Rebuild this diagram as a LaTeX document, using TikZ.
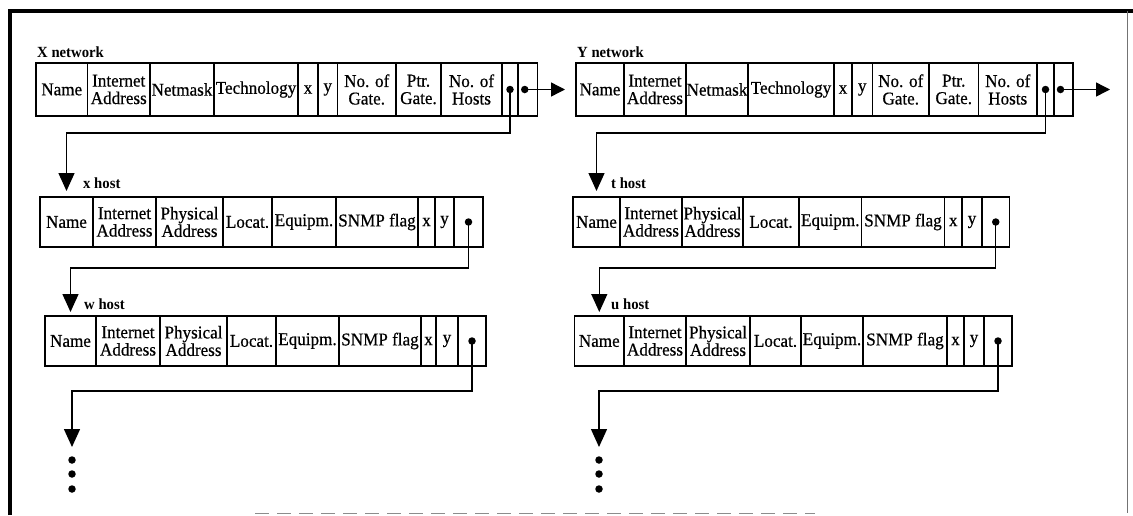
\documentclass[tikz,border=0pt]{standalone}
\usepackage{fontspec}
\setmainfont[FakeBold=0.6, FakeStretch=0.95]{Liberation Serif}
\newfontfamily\lblfont[FakeStretch=0.95]{Liberation Serif}
\usetikzlibrary{arrows.meta,calc}

\tikzset{
  cell/.style={draw, line width=1.4pt, inner sep=0pt, outer sep=0pt, align=center,
    font=\fontsize{18}{17.5}\selectfont},
  ptdot/.style={circle, fill, inner sep=0pt, outer sep=0pt, minimum size=7.5pt},
  moredot/.style={circle, fill, inner sep=0pt, minimum size=7.5pt},
  lbl/.style={anchor=base west, inner sep=0pt, font=\lblfont\bfseries\fontsize{15.5}{15.5}\selectfont},
  link/.style={line width=1.4pt, -{Triangle[length=18pt,width=16pt]}},
  hlink/.style={line width=1.4pt, -{Triangle[length=14pt,width=14pt]}},
}

\newcommand{\cellrow}[4]{%
  \foreach \l/\r/\t [count=\i] in {#4} {
    \node[cell, minimum width={(\r-\l)*1pt}, minimum height={(#3-#2)*1pt}]
      (#1\i) at ({(\l+\r)/2},{(#2+#3)/2}) {\t};
  }}

\begin{document}
\begin{tikzpicture}[x=1pt,y=-1pt]
\useasboundingbox (0,0) rectangle (1133,515);

% frame
\draw[line width=3.5pt] (10,515) -- (10,11) -- (1133,11);
\draw[line width=0.8pt, black!55] (1127,11) -- (1127,513);
\draw[line width=0.8pt, black!45, dash pattern=on 14pt off 8pt] (255,513) -- (815,513);

% rails (levels of the horizontal runs)
\coordinate (railA) at (0,133);
\coordinate (railB) at (0,268);
\coordinate (railC) at (0,391);

% ---------- X network ----------
\node[lbl] (Xlab) at (37,57) {X network};
\cellrow{X}{63}{116}{36/87.5/Name, 87.5/150/Internet\\Address, 150/214/Netmask,
  214/298/Technology, 298/318/x, 318/337.5/y, 337.5/396/No. of\\Gate.,
  396/441/Ptr.\\Gate., 441/502/No. of\\Hosts, 502/518/{}, 518/537.5/{}}
\node[ptdot] (Xp1) at (X10.center) {};
\node[ptdot] (Xp2) at ($(X11.center)+(-3,0)$) {};

% ---------- Y network ----------
\node[lbl] (Ylab) at (577,57) {Y network};
\cellrow{Y}{63}{116}{576/624/Name, 624/686/Internet\\Address, 686/748/Netmask,
  748/834/Technology, 834/852/x, 852/872.5/y, 872.5/929/No. of\\Gate.,
  929/978.5/Ptr.\\Gate., 978.5/1037/No. of\\Hosts, 1037/1054/{}, 1054/1073/{}}
\node[ptdot] (Yp1) at (Y10.center) {};
\node[ptdot] (Yp2) at ($(Y11.center)+(-3,0)$) {};
\coordinate (Yout) at (1110,89.5);

% ---------- x host ----------
\node[lbl] (xlab) at (83,188) {x host};
\cellrow{xh}{197}{247}{40/93/Name, 93/156/Internet\\Address, 156/223/Physical\\Address,
  223/272/Locat., 272/336/Equipm., 336/418/SNMP flag, 418/435/x, 435/454/y, 454/483/{}}
\node[ptdot] (xp) at (xh9.center) {};

% ---------- w host ----------
\node[lbl] (wlab) at (84,309) {w host};
\cellrow{wh}{316}{366}{45/96/Name, 96/160/Internet\\Address, 160/227/Physical\\Address,
  227/276/Locat., 276/339/Equipm., 339/421/SNMP flag, 421/436/x, 436/458/y, 458/486/{}}
\node[ptdot] (wp) at (wh9.center) {};
\coordinate (wend) at (72,447);
\node[moredot] (wm1) at (72,460) {};
\node[moredot] (wm2) at (72,474) {};
\node[moredot] (wm3) at (72,489) {};

% ---------- t host ----------
\node[lbl] (tlab) at (611,188) {t host};
\cellrow{th}{197}{247}{573/620/Name, 620/682/Internet\\Address, 682/743/Physical\\Address,
  743/799/Locat., 799/861.5/Equipm., 861.5/944.5/SNMP flag, 944.5/962/x, 962/982/y, 982/1009.5/{}}
\node[ptdot] (tp) at (th9.center) {};

% ---------- u host ----------
\node[lbl] (ulab) at (611,309) {u host};
\cellrow{uh}{316}{366}{574.6/624/Name, 624/686/Internet\\Address, 686/750/Physical\\Address,
  750/801/Locat., 801/863/Equipm., 863/947/SNMP flag, 947/964/x, 964/984/y, 984/1012/{}}
\node[ptdot] (up) at (uh9.center) {};
\coordinate (uend) at (599,447);
\node[moredot] (um1) at (599,460) {};
\node[moredot] (um2) at (599,474) {};
\node[moredot] (um3) at (599,489) {};

% ---------- connectors ----------
\draw[hlink, shorten >=11pt] (Xp2.center) -- (Y1.west);
\draw[hlink] (Yp2.center) -- (Yout);

\draw[link, shorten >=6pt] (Xp1.center) -- (Xp1.center |- railA) -| (xh1.north);
\draw[link, shorten >=4pt] (xp.center) -- (xp.center |- railB) -| (wh1.north);
\draw[link] (wp.center) -- (wp.center |- railC) -| (wend);

\draw[link, shorten >=6pt] (Yp1.center) -- (Yp1.center |- railA) -| (th1.north);
\draw[link, shorten >=4pt] (tp.center) -- (tp.center |- railB) -| (uh1.north);
\draw[link] (up.center) -- (up.center |- railC) -| (uend);
\end{tikzpicture}
\end{document}
